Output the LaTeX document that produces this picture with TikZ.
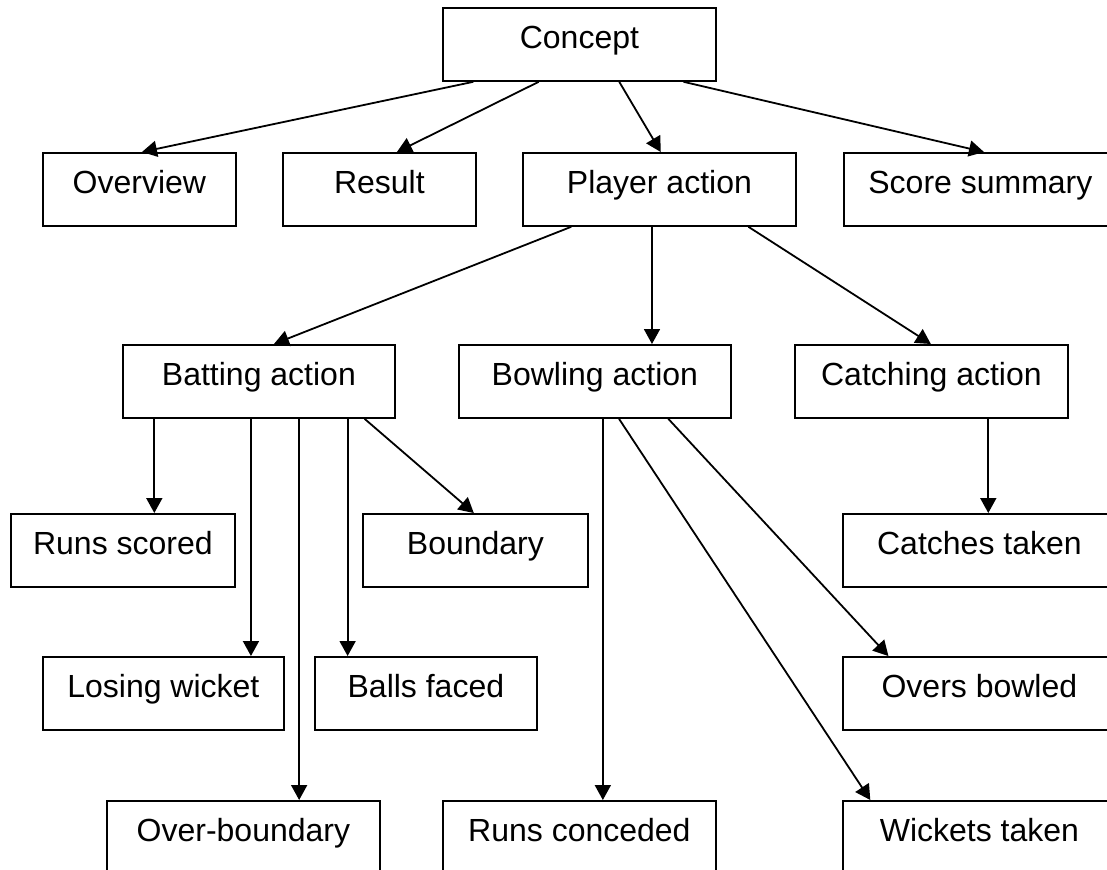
\documentclass[tikz,border=0pt]{standalone}
\usepackage{fontspec}
\setmainfont{Liberation Sans}
\usetikzlibrary{arrows.meta,calc}
\begin{document}
\begin{tikzpicture}[x=0.5pt,y=-0.5pt,
  box/.style={draw,line width=0.9pt,rectangle,anchor=north west,
    minimum height=36.5pt,inner sep=0pt,text height=12pt,text depth=7.6pt,
    font=\fontsize{16}{19}\selectfont},
  link/.style={line width=0.9pt,-{Triangle[length=7.5pt,width=8pt]}}]
\fill[white] (0,0) rectangle (1107,869);
\useasboundingbox (0,0) rectangle (1107,869);
\clip (0,0) rectangle (1107,869);

% boxes
\node[box,minimum width=136.5pt] (con) at (442,7) {Concept};
\node[box,minimum width=96.5pt]  (ov)  at (42,152) {Overview};
\node[box,minimum width=96.5pt]  (res) at (282,152) {Result};
\node[box,minimum width=136.5pt] (pa)  at (522,152) {Player action};
\node[box,minimum width=136.5pt] (ss)  at (843,152) {Score summary};
\node[box,minimum width=136pt]   (bat) at (122,344) {Batting action};
\node[box,minimum width=136pt]   (bowl) at (458,344) {Bowling action};
\node[box,minimum width=136.5pt] (cat) at (794,344) {Catching action};
\node[box,minimum width=112pt]   (rs)  at (10,513) {Runs scored};
\node[box,minimum width=112.5pt] (bd)  at (362,513) {Boundary};
\node[box,minimum width=136.5pt] (ct)  at (842,513) {Catches taken};
\node[box,minimum width=120.5pt] (lw)  at (42,656) {Losing wicket};
\node[box,minimum width=111pt]   (bf)  at (314,656) {Balls faced};
\node[box,minimum width=136.5pt] (ovb) at (842,656) {Overs bowled};
\node[box,minimum width=136.5pt] (ob)  at (106,800) {Over-boundary};
\node[box,minimum width=136.5pt] (rc)  at (442,800) {Runs conceded};
\node[box,minimum width=136.5pt] (wt)  at (842,800) {Wickets taken};

% concept to first row
\draw[link] ($(con.south west)!0.114!(con.south east)$) -- ($(ov.north west)!0.513!(ov.north east)$);
\draw[link] ($(con.south west)!0.352!(con.south east)$) -- ($(res.north west)!0.59!(res.north east)$);
\draw[link] ($(con.south west)!0.645!(con.south east)$) -- ($(pa.north west)!0.505!(pa.north east)$);
\draw[link] ($(con.south west)!0.879!(con.south east)$) -- ($(ss.north west)!0.513!(ss.north east)$);

% player action to the three actions
\draw[link] ($(pa.south west)!0.179!(pa.south east)$) -- ($(bat.north west)!0.555!(bat.north east)$);
\draw[link] ($(pa.south west)!0.473!(pa.south east)$) coordinate (p) -- (p |- bowl.north);
\draw[link] ($(pa.south west)!0.824!(pa.south east)$) -- ($(cat.north west)!0.498!(cat.north east)$);

% batting action
\draw[link] ($(bat.south west)!0.118!(bat.south east)$) coordinate (p) -- (p |- rs.north);
\draw[link] ($(bat.south west)!0.471!(bat.south east)$) coordinate (p) -- (p |- lw.north);
\draw[link] ($(bat.south west)!0.647!(bat.south east)$) coordinate (p) -- (p |- ob.north);
\draw[link] ($(bat.south west)!0.824!(bat.south east)$) coordinate (p) -- (p |- bf.north);
\draw[link] ($(bat.south west)!0.886!(bat.south east)$) -- ($(bd.north west)!0.493!(bd.north east)$);

% bowling action
\draw[link] ($(bowl.south west)!0.529!(bowl.south east)$) coordinate (p) -- (p |- rc.north);
\draw[link] ($(bowl.south west)!0.588!(bowl.south east)$) -- ($(wt.north west)!0.103!(wt.north east)$);
\draw[link] ($(bowl.south west)!0.768!(bowl.south east)$) -- ($(ovb.north west)!0.169!(ovb.north east)$);

% catching action
\draw[link] ($(cat.south west)!0.707!(cat.south east)$) coordinate (p) -- (p |- ct.north);
\end{tikzpicture}
\end{document}
